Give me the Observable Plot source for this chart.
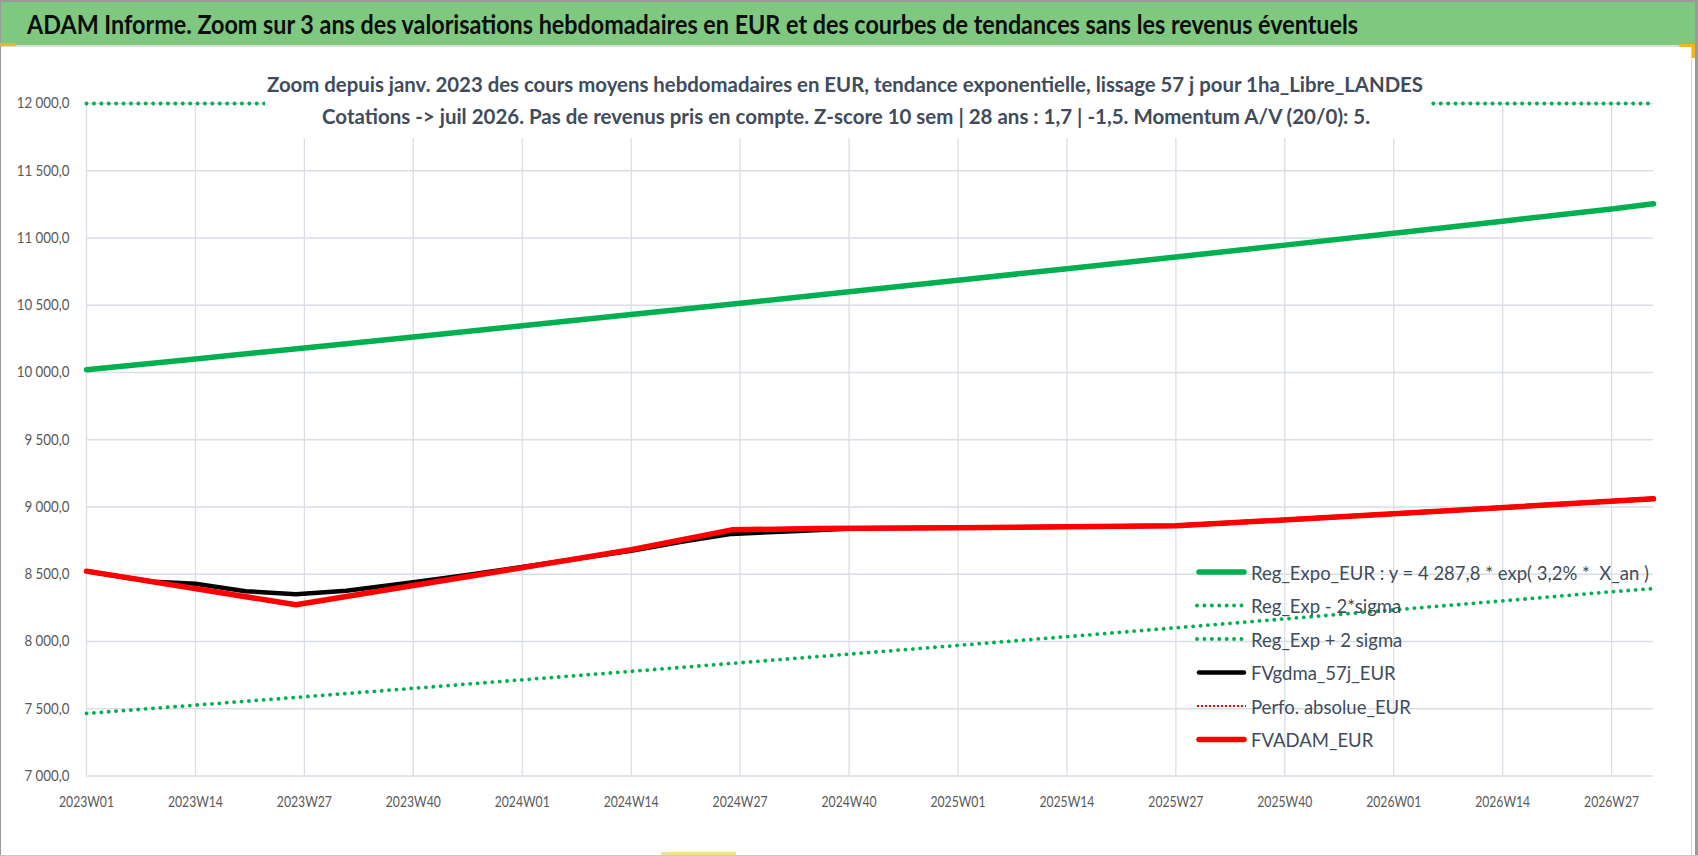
<!DOCTYPE html>
<html><head><meta charset="utf-8">
<script src="https://cdn.jsdelivr.net/npm/d3@7"></script>
<script src="https://cdn.jsdelivr.net/npm/@observablehq/plot@0.6"></script>
<style>
html,body{margin:0;padding:0;background:#fff;}
#wrap{position:relative;width:1698px;height:856px;overflow:hidden;background:#fff;font-family:Lato,"Open Sans",sans-serif;}
.abs{position:absolute;}
#overlay{position:absolute;left:0;top:0;pointer-events:none;}
#overlay text{white-space:pre;}
</style></head><body><div id="wrap"></div>
<script>
// ---------- data ----------
const tickWeeks  = [0, 13, 26, 39, 52, 65, 78, 91, 104, 117, 130, 143, 156, 169, 182];
const tickLabels = ["2023W01","2023W14","2023W27","2023W40","2024W01","2024W14","2024W27","2024W40","2025W01","2025W14","2025W27","2025W40","2026W01","2026W14","2026W27"];
const yTicks = [7000, 7500, 8000, 8500, 9000, 9500, 10000, 10500, 11000, 11500, 12000];

const trendWeeks = [0, 13, 26, 39, 52, 65, 78, 91, 104, 117, 130, 143, 156, 169, 182, 187];
const regExpo    = [10020, 10101, 10182, 10264, 10347, 10431, 10515, 10600, 10686, 10772, 10859, 10947, 11036, 11125, 11215, 11254];
const regExpLow  = [7465, 7527, 7589, 7652, 7715, 7778, 7842, 7906, 7971, 8036, 8102, 8168, 8235, 8302, 8370, 8393];
const regExpHigh = [12000, 12000, 12000, 12000, 12000, 12000, 12000, 12000, 12000, 12000, 12000, 12000, 12000, 12000, 12000, 12000];

const gdmaWeeks = [0, 8, 13, 19, 25, 31, 39, 45, 52, 65, 71, 77, 85, 92, 104, 130, 156, 187];
const fvgdma    = [8523, 8444, 8429, 8374, 8352, 8378, 8441, 8490, 8555, 8675, 8742, 8800, 8822, 8842, 8845, 8860, 8949, 9061];

const adamWeeks = [0, 25, 65, 77, 87, 104, 130, 156, 187];
const fvadam    = [8523, 8273, 8682, 8830, 8840, 8845, 8860, 8949, 9061];

const titleText = "ADAM Informe. Zoom sur 3 ans des valorisations hebdomadaires en EUR et des courbes de tendances sans les revenus éventuels";
const subLine1 = "Zoom depuis janv. 2023 des cours moyens hebdomadaires en EUR, tendance exponentielle, lissage 57 j pour 1ha_Libre_LANDES";
const subLine2 = "Cotations -> juil 2026. Pas de revenus pris en compte. Z-score 10 sem | 28 ans : 1,7 | -1,5. Momentum A/V (20/0): 5.";
const legendLabels = ["Reg_Expo_EUR : y = 4 287,8 * exp( 3,2% *  X_an )","Reg_Exp - 2*sigma","Reg_Exp + 2 sigma","FVgdma_57j_EUR","Perfo. absolue_EUR","FVADAM_EUR"];

// ---------- build ----------
const GREEN = "#00b050", RED = "#ff0000", BLACK = "#000000";
const TXT = "#404b5b";
const wrap = document.getElementById("wrap");
function box(l,t,w,h,bg){const d=document.createElement("div");d.className="abs";Object.assign(d.style,{left:l+"px",top:t+"px",width:w+"px",height:h+"px",background:bg});wrap.appendChild(d);return d;}

// frame / title bar
box(0,0,1698,2,"#9a9a9a");
box(0,0,1,856,"#9a9a9a");
box(1695,0,3,856,"#9a9a9a");
box(0,855,1698,1,"#c8c8c8");
box(1,2,1694,43,"#7ec87f");
box(1,45,1694,2,"#dedede");
box(1691,47,1,808,"#d4d4d4");

const toRows = (ws, vs) => vs.map((v,i)=>({w: ws[i], v}));
const frFmt = d3.formatLocale({decimal:",", thousands:" ", grouping:[3], currency:["","€"]}).format(",.1f");
const xFmt = d => tickLabels[tickWeeks.indexOf(d)];

const chart = Plot.plot({
  width: 1698, height: 808,
  marginLeft: 86, marginRight: 45, marginTop: 56, marginBottom: 79.5,
  style: {fontFamily: 'Lato, "Open Sans", sans-serif', color: "#595959", background: "transparent", overflow: "visible"},
  x: {domain: [0, 187], axis: null, label: null},
  y: {domain: [7000, 12000], axis: null, label: null},
  marks: [
    Plot.gridY(yTicks, {stroke: "#d9dee6", strokeOpacity: 1, strokeWidth: 1.3}),
    Plot.gridX(tickWeeks, {stroke: "#d9dee6", strokeOpacity: 1, strokeWidth: 1.3}),
    Plot.axisY(yTicks, {tickSize: 0, tickPadding: 17, tickFormat: frFmt, fontSize: 15, fill: "#595959", label: null}),
    Plot.axisX(tickWeeks, {tickSize: 0, tickPadding: 21, tickFormat: xFmt, fontSize: 14.5, fill: "#595959", label: null}),
    Plot.line(toRows(trendWeeks, regExpo), {x: "w", y: "v", stroke: GREEN, strokeWidth: 5.5}),
    Plot.line(toRows(trendWeeks, regExpLow), {x: "w", y: "v", stroke: GREEN, strokeWidth: 3.8, strokeDasharray: "0.1 7.3", strokeLinecap: "round"}),
    Plot.line(toRows(trendWeeks, regExpHigh), {x: "w", y: "v", stroke: GREEN, strokeWidth: 3.8, strokeDasharray: "0.1 7.3", strokeLinecap: "round"}),
    Plot.line(toRows(gdmaWeeks, fvgdma), {x: "w", y: "v", stroke: BLACK, strokeWidth: 4.5}),
    Plot.line(toRows(adamWeeks, fvadam), {x: "w", y: "v", stroke: RED, strokeWidth: 5.5})
  ]
});
chart.style.position = "absolute";
chart.style.left = "0px";
chart.style.top = "47px";
wrap.appendChild(chart);

// fit tick label widths (narrow Calibri-like look)
function fitGroup(sel, sampleTarget) {
  const texts = Array.from(chart.querySelectorAll(sel));
  if (!texts.length) return;
  const k = sampleTarget.w / measure(texts, sampleTarget.s);
  texts.forEach(t => { const w = t.getComputedTextLength(); t.setAttribute("textLength", (w*k).toFixed(2)); t.setAttribute("lengthAdjust", "spacingAndGlyphs"); });
}
function measure(texts, s) { const t = texts.find(t => t.textContent === s) || texts[0]; return t.getComputedTextLength(); }
fitGroup('[aria-label="y-axis tick label"] text', {s: "7 000,0", w: 45});
fitGroup('[aria-label="x-axis tick label"] text', {s: "2023W01", w: 55});

// overlay: title, subtitle, legend
const NS = "http://www.w3.org/2000/svg";
const ov = document.createElementNS(NS, "svg");
ov.setAttribute("id", "overlay"); ov.setAttribute("width", 1698); ov.setAttribute("height", 856);
wrap.appendChild(ov);
function el(name, attrs, parent) { const e = document.createElementNS(NS, name); for (const k in attrs) e.setAttribute(k, attrs[k]); (parent||ov).appendChild(e); return e; }
function txt(s, attrs, width) { const t = el("text", attrs); t.textContent = s; if (width) { t.setAttribute("textLength", width); t.setAttribute("lengthAdjust", "spacingAndGlyphs"); } return t; }

txt(titleText, {x: 27, y: 33.5, "font-size": 27, "font-weight": "bold", fill: "#0d0d0d", "font-family": 'Lato, "Open Sans", sans-serif'}, 1331);

el("rect", {x: 265, y: 58, width: 1166, height: 80, fill: "#fff"});
txt(subLine1, {x: 845, y: 92, "text-anchor": "middle", "font-size": 21, "font-weight": "bold", fill: TXT, "font-family": 'Lato, "Open Sans", sans-serif'}, 1156);
txt(subLine2, {x: 846, y: 123.5, "text-anchor": "middle", "font-size": 21, "font-weight": "bold", fill: TXT, "font-family": 'Lato, "Open Sans", sans-serif'}, 1048);

// legend
const legendStyles = [
  {stroke: GREEN, w: 5.5, dash: null, cap: "round"},
  {stroke: GREEN, w: 3.8, dash: "0.1 7.3", cap: "round"},
  {stroke: GREEN, w: 3.8, dash: "0.1 7.3", cap: "round"},
  {stroke: BLACK, w: 4.5, dash: null, cap: "round"},
  {stroke: RED, w: 2, dash: "2 2", cap: "butt"},
  {stroke: RED, w: 5.5, dash: null, cap: "round"}
];
const legTexts = [];
legendLabels.forEach((lab, i) => {
  const cy = 572 + 33.5 * i;
  const st = legendStyles[i];
  const a = {x1: st.cap === "round" && !st.dash ? 1199 : 1197, x2: st.cap === "round" && !st.dash ? 1244 : 1246, y1: cy, y2: cy, stroke: st.stroke, "stroke-width": st.w, "stroke-linecap": st.cap};
  if (st.dash) a["stroke-dasharray"] = st.dash;
  el("line", a);
  legTexts.push(txt(lab, {x: 1251, y: cy + 7.5, "font-size": 20, fill: TXT, "font-family": 'Lato, "Open Sans", sans-serif'}));
});
const kLeg = 398 / legTexts[0].getComputedTextLength();
legTexts.forEach(t => { const w = t.getComputedTextLength(); t.setAttribute("textLength", (w*kLeg).toFixed(2)); t.setAttribute("lengthAdjust", "spacingAndGlyphs"); });

// Excel selection handles (yellow)
box(1679,44,16,3,"#f3b61f"); box(1692,44,3,14,"#f3b61f");
box(0,43,16,3,"#f3b61f");
box(661,852,75,3,"#f3e28a");
</script></body></html>
